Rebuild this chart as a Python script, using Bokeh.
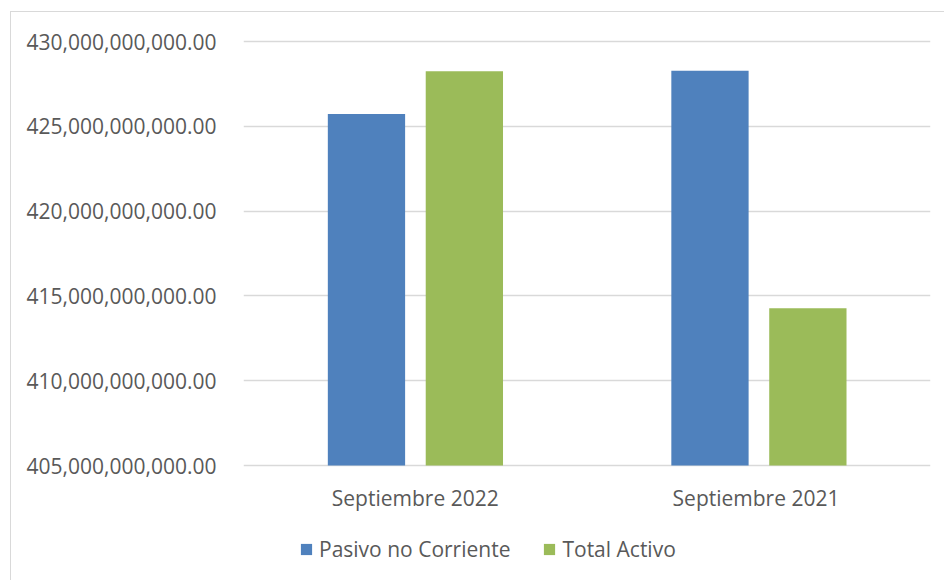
from bokeh.plotting import figure
from bokeh.models import ColumnDataSource, FactorRange, NumeralTickFormatter, Legend, LegendItem, Range1d, FixedTicker
from bokeh.core.properties import value
from bokeh.transform import dodge
from bokeh.embed import file_html
from bokeh.resources import INLINE

categories = ["Septiembre 2022", "Septiembre  2021"]
pasivo_no_corriente = [425.72e9, 428.27e9]
total_activo = [428.24e9, 414.27e9]
y_ticks = [405e9, 410e9, 415e9, 420e9, 425e9, 430e9]
axis_base = 405e9

FONT = "Open Sans"
TXT = "#595959"
FS = "21px"

src = ColumnDataSource(dict(cat=categories, pasivo=pasivo_no_corriente, activo=total_activo,
                            base=[axis_base] * len(categories)))

# frame extends below the value axis to host category labels and legend
p = figure(width=936, height=571, output_backend="svg", toolbar_location=None,
           x_range=FactorRange(*categories, range_padding=0.0),
           y_range=Range1d(398.28e9, 430.118e9),
           min_border_left=232, min_border_right=17, min_border_top=27, min_border_bottom=4)
p.margin = (11, 0, 0, 10)
p.styles = {"border": "1px solid #d9d9d9"}
p.outline_line_color = None

r1 = p.vbar(x=dodge("cat", -0.142, range=p.x_range), top="pasivo", bottom="base", width=0.225,
            source=src, fill_color="#4F81BD", line_color=None)
r2 = p.vbar(x=dodge("cat", 0.143, range=p.x_range), top="activo", bottom="base", width=0.225,
            source=src, fill_color="#9BBB59", line_color=None)

# category labels below the base line
p.text(x="cat", y=dodge("base", -1.89e9), text="cat", source=src,
       text_font=value(FONT), text_font_size=FS, text_color=TXT,
       text_align="center", text_baseline="middle")

p.xaxis.visible = False
p.yaxis.ticker = FixedTicker(ticks=y_ticks)
p.yaxis.formatter = NumeralTickFormatter(format="0,0.00")
ax = p.yaxis[0]
ax.axis_line_color = None
ax.major_tick_line_color = None
ax.minor_tick_line_color = None
ax.major_label_text_font = FONT
ax.major_label_text_font_size = FS
ax.major_label_text_color = TXT
ax.major_label_standoff = 21

p.xgrid.grid_line_color = None
p.ygrid.grid_line_color = "#d9d9d9"
p.ygrid.grid_line_width = 1.5

legend = Legend(items=[LegendItem(label="Pasivo no Corriente", renderers=[r1]),
                       LegendItem(label="Total Activo", renderers=[r2])],
                orientation="horizontal", location=(56, 16),
                label_text_font=FONT, label_text_font_size=FS, label_text_color=TXT,
                glyph_width=14, glyph_height=14, label_standoff=6, spacing=32,
                border_line_color=None, background_fill_alpha=0, padding=4, margin=0)
p.add_layout(legend, "center")

open("out.html", "w").write(file_html(p, INLINE))
